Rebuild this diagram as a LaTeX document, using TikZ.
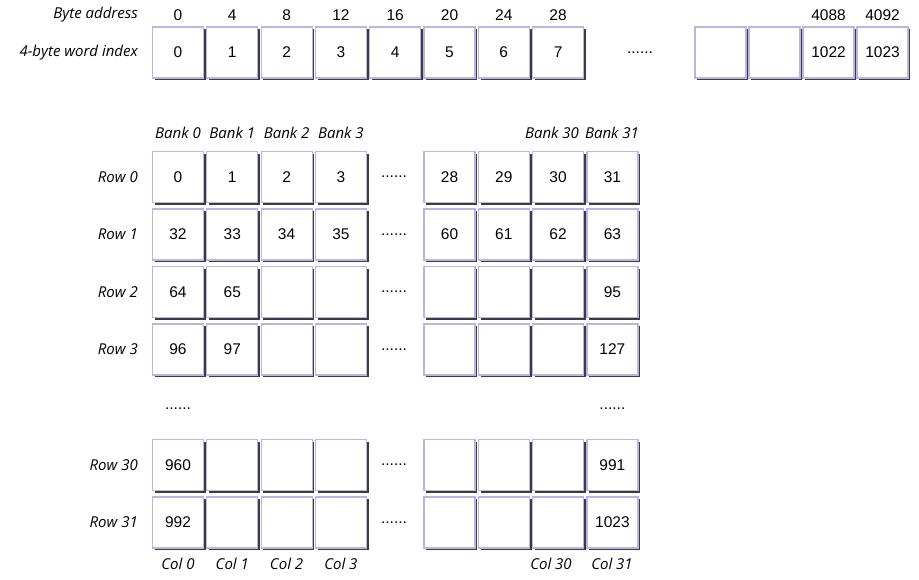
\documentclass[tikz,border=0pt]{standalone}
\usepackage{fontspec}
\setmainfont{Liberation Sans}
\newfontfamily\lblfont{Open Sans}
\usetikzlibrary{
    shadows
}
\definecolor{cellline}{HTML}{BCB4E4}
\definecolor{cellshadow}{HTML}{3C3C3C}

\begin{document}
\begin{tikzpicture}
        [
            x = 1pt, y = -1pt,
            cell/.style = {draw = cellline, line width = 1.2pt, fill = white, rectangle, inner sep = 0pt, minimum width = 51pt, minimum height = 51pt, font = \fontsize{15.5}{17}\selectfont, drop shadow = {shadow xshift = 2.3pt, shadow yshift = -2.3pt, fill = cellshadow, opacity = 1}},
            lbl/.style = {font = \lblfont\itshape\fontsize{15}{17}\selectfont, inner sep = 1pt},
            num/.style = {font = \fontsize{15.5}{17}\selectfont, inner sep = 1pt},
            dots/.style = {font = \fontsize{15.5}{17}\selectfont, inner sep = 0pt}
        ]
        \useasboundingbox (0, 0) rectangle (919, 579);
        % word array
        \def\ypos{52.5}
        \node[lbl, anchor = east] (bytelbl) at (139, 15) {Byte address};
        \node[lbl, anchor = east] (wordlbl) at (139, \ypos) {4-byte word index};
        \foreach \i in {0,...,7} {
            \pgfmathtruncatemacro\byte{4*\i}
            \node[cell] (w\i) at ({178 + 54.3*\i}, \ypos) {\i};
            \node[num] (b\i) at ({178 + 54.3*\i}, 15) {\byte};
        }
        \node[dots] (wdots) at (640, \ypos) {......};
        \node[cell] (w1020) at (720.5, \ypos) {};
        \node[cell] (w1021) at (774.5, \ypos) {};
        \node[cell] (w1022) at (828.5, \ypos) {1022};
        \node[cell] (w1023) at (882.5, \ypos) {1023};
        \node[num] (b4088) at (828.5, 15) {4088};
        \node[num] (b4092) at (882.5, 15) {4092};
        % banks
        \node[lbl] (bank0) at (178, 133) {Bank 0};
        \node[lbl] (bank1) at (232.3, 133) {Bank 1};
        \node[lbl] (bank2) at (286.6, 133) {Bank 2};
        \node[lbl] (bank3) at (340.9, 133) {Bank 3};
        \node[lbl] (bank30) at (552, 133) {Bank 30};
        \node[lbl] (bank31) at (612, 133) {Bank 31};
        \foreach \r/\ypos/\ca/\cb/\cc/\cd/\ce/\cf/\cg/\ch in {
            0/177/0/1/2/3/28/29/30/31,
            1/234.5/32/33/34/35/60/61/62/63,
            2/292/64/65/{}/{}/{}/{}/{}/95,
            3/349.5/96/97/{}/{}/{}/{}/{}/127,
            30/465/960/{}/{}/{}/{}/{}/{}/991,
            31/522.5/992/{}/{}/{}/{}/{}/{}/1023} {
            \node[lbl, anchor = east] (row\r) at (139, \ypos) {Row \r};
            \node[cell] (r\r-0) at (178, \ypos) {\ca};
            \node[cell] (r\r-1) at (232.3, \ypos) {\cb};
            \node[cell] (r\r-2) at (286.6, \ypos) {\cc};
            \node[cell] (r\r-3) at (340.9, \ypos) {\cd};
            \node[dots] (r\r-dots) at (394, \ypos) {......};
            \node[cell] (r\r-28) at (449.5, \ypos) {\ce};
            \node[cell] (r\r-29) at (503.8, \ypos) {\cf};
            \node[cell] (r\r-30) at (558.1, \ypos) {\cg};
            \node[cell] (r\r-31) at (612.4, \ypos) {\ch};
        }
        \node[dots] (ldots) at (178, 409) {......};
        \node[dots] (rdots) at (612.4, 409) {......};
        \node[lbl] (col0) at (178, 564) {Col 0};
        \node[lbl] (col1) at (232.3, 564) {Col 1};
        \node[lbl] (col2) at (286.6, 564) {Col 2};
        \node[lbl] (col3) at (340.9, 564) {Col 3};
        \node[lbl] (col30) at (551, 564) {Col 30};
        \node[lbl] (col31) at (612, 564) {Col 31};
    \end{tikzpicture}
\end{document}
